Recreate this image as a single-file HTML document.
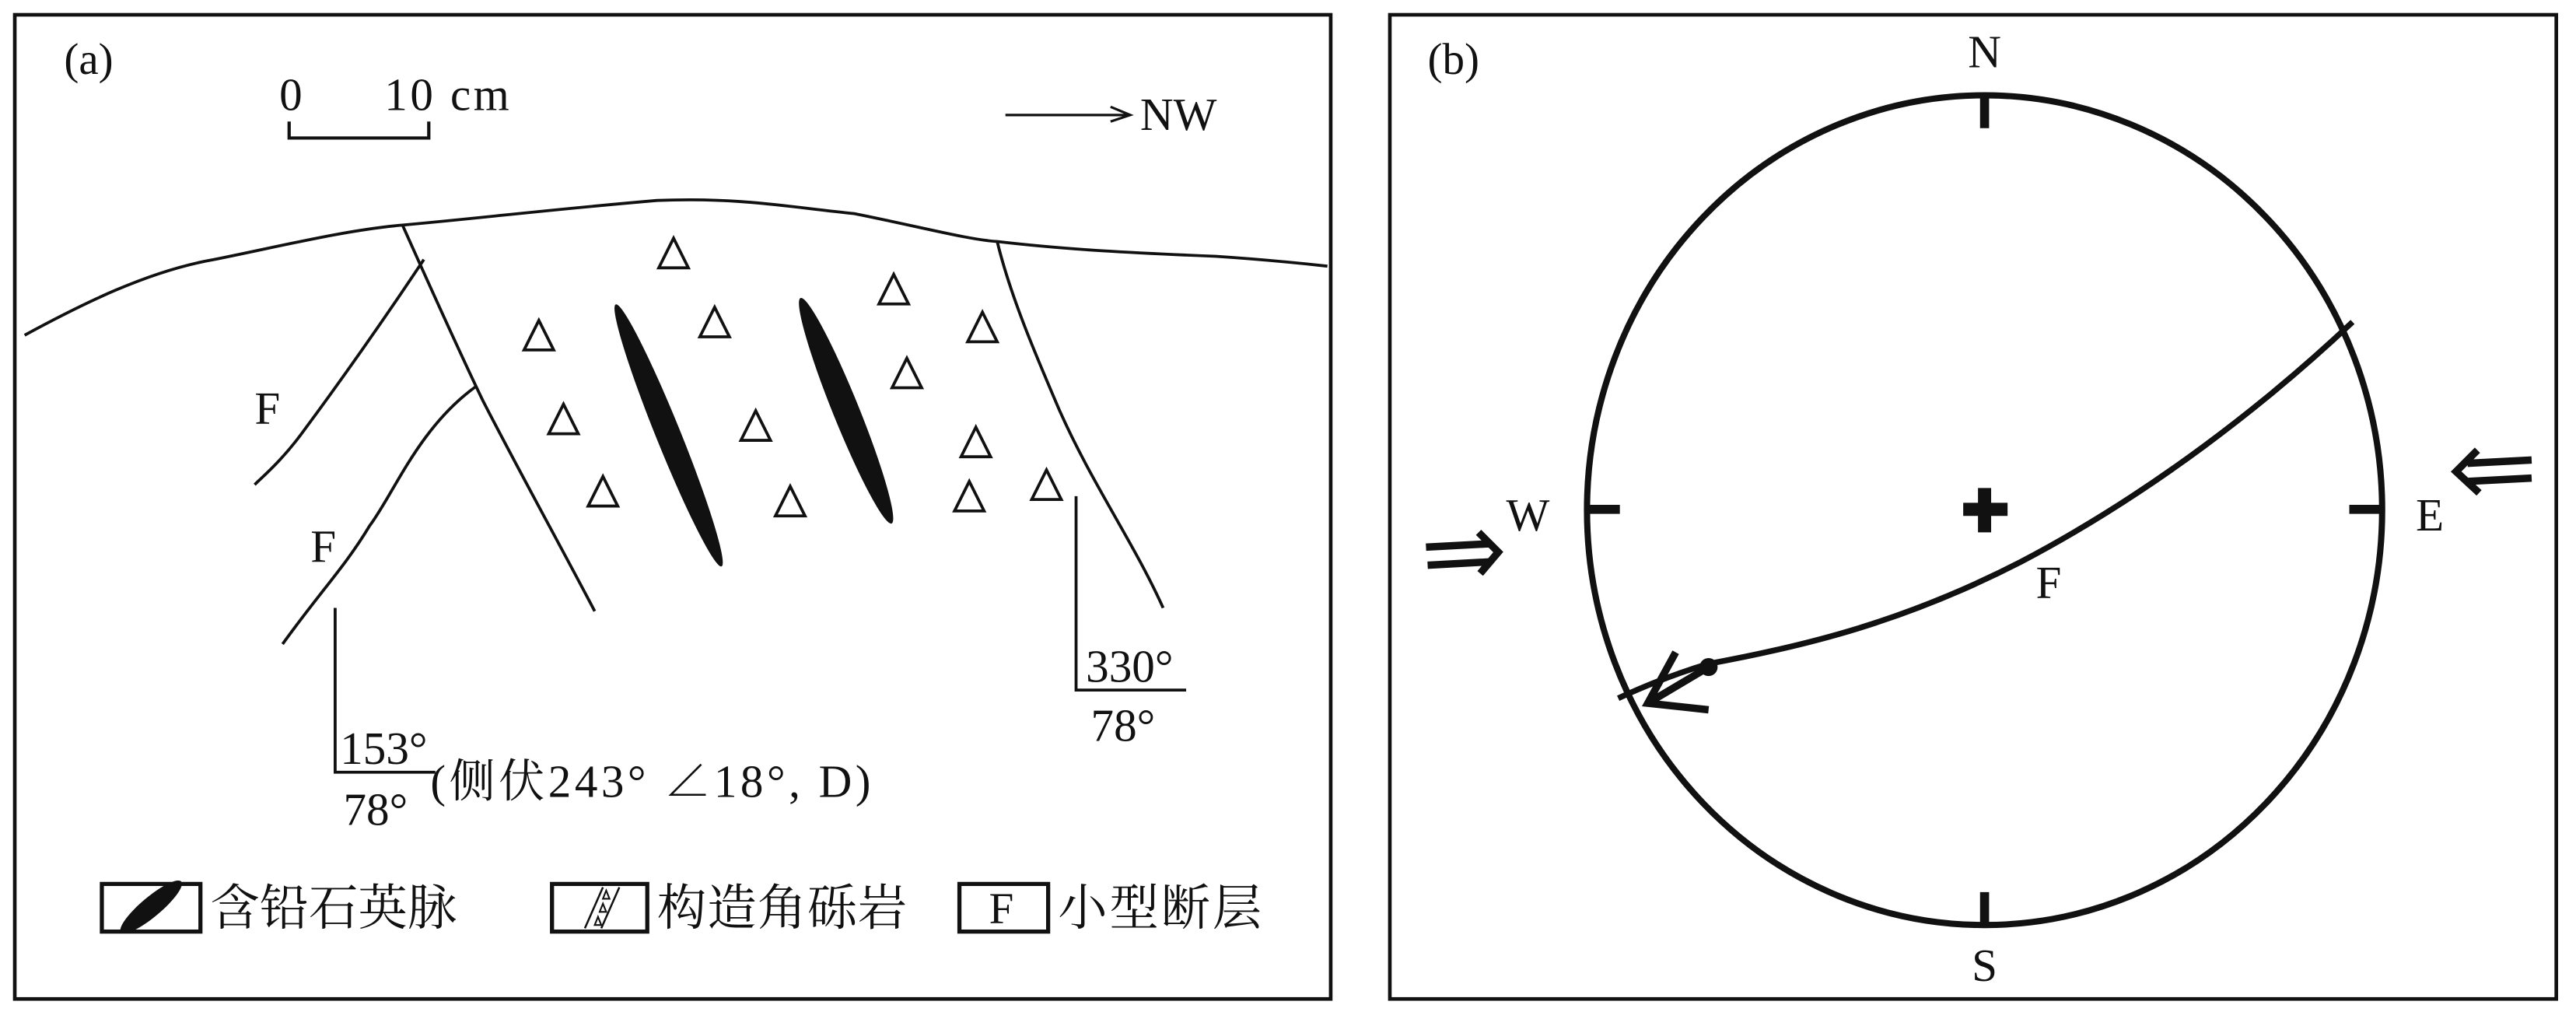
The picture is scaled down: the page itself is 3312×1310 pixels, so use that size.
<!DOCTYPE html>
<html><head><meta charset="utf-8"><style>html,body{margin:0;padding:0;background:#fff}svg{display:block}text{font-family:"Liberation Serif","Noto Serif CJK SC","Noto Sans CJK SC",serif;fill:#111}</style></head>
<body>
<svg width="3312" height="1310" viewBox="0 0 1568 620.2" preserveAspectRatio="none" xmlns="http://www.w3.org/2000/svg">
<g fill="none" stroke="#111">
<rect x="9" y="9" width="801" height="599" stroke-width="2.2"/>
<rect x="846" y="9" width="710" height="599" stroke-width="2.2"/>
</g>
<text x="39" y="45" font-size="27">(a)</text>
<text x="869" y="45" font-size="27">(b)</text>
<!-- scale -->
<text x="170" y="67" font-size="28">0</text>
<text x="234" y="67" font-size="28" textLength="76">10 cm</text>
<path d="M176,74 V84 H261 V74" fill="none" stroke="#111" stroke-width="2"/>
<path d="M612,70 H688 M676,65 L688,70 L676,74" fill="none" stroke="#111" stroke-width="1.5"/>
<text x="694" y="79" font-size="28">NW</text>
<!-- geology lines -->
<g fill="none" stroke="#111" stroke-width="1.8">
<path d="M15,204 C50,185 90,165 130,158 C170,150 210,140 245,137 C300,132 330,128 400,122 C450,120 480,126 520,130 C560,138 590,146 607,147 C650,152 690,154 740,156 C770,158 790,160 808,162"/>
<path d="M245,137 C262,175 280,215 294,244 C315,285 340,330 362,372"/>
<path d="M258,158 C230,200 205,235 185,262 C172,280 160,290 155,295"/>
<path d="M290,235 C255,260 240,300 225,320 C210,345 195,360 172,392"/>
<path d="M607,147 C615,180 630,215 645,250 C665,295 690,330 708,370"/>
<path d="M204,370 V470 H265"/>
<path d="M655,302 V420 H722"/>
</g>
<text x="155" y="258" font-size="28">F</text>
<text x="189" y="342" font-size="28">F</text>
<!-- veins -->
<ellipse cx="407" cy="265" rx="7.5" ry="86" transform="rotate(-22 407 265)" fill="#111"/>
<ellipse cx="515" cy="250" rx="8" ry="74" transform="rotate(-22 515 250)" fill="#111"/>
<!-- triangles -->
<g fill="none" stroke="#111" stroke-width="1.8">
<path d="M410,145 l-9,18 h18z"/><path d="M328,195 l-9,18 h18z"/><path d="M435,187 l-9,18 h18z"/>
<path d="M544,167 l-9,18 h18z"/><path d="M598,190 l-9,18 h18z"/><path d="M552,218 l-9,18 h18z"/>
<path d="M343,246 l-9,18 h18z"/><path d="M460,250 l-9,18 h18z"/><path d="M594,260 l-9,18 h18z"/>
<path d="M367,290 l-9,18 h18z"/><path d="M481,296 l-9,18 h18z"/><path d="M590,293 l-9,18 h18z"/>
<path d="M637,286 l-9,18 h18z"/>
</g>
<text x="207" y="465" font-size="28">153°</text>
<text x="209" y="502" font-size="28">78°</text>
<text x="262" y="485" font-size="28" textLength="268">(侧伏243° ∠18°, D)</text>
<text x="661" y="415" font-size="28">330°</text>
<text x="664" y="451" font-size="28">78°</text>
<!-- legend -->
<g fill="none" stroke="#111">
<rect x="62" y="538" width="60" height="29" stroke-width="2.5"/>
<rect x="336" y="538" width="58" height="29" stroke-width="2.5"/>
<rect x="584" y="538" width="54" height="29" stroke-width="2.5"/>
<path d="M367,540 L356,565 M377,540 L366,565" stroke-width="1.2"/>
</g>
<ellipse cx="92" cy="552" rx="6" ry="24" transform="rotate(50 92 552)" fill="#111"/>
<g fill="none" stroke="#111" stroke-width="1"><path d="M369,542 l-2,5 h4z"/><path d="M367,550 l-2,5 h4z"/><path d="M364,558 l-2,5 h4z"/></g>
<text x="128" y="563" font-size="30" textLength="150">含铅石英脉</text>
<text x="400" y="563" font-size="30" textLength="152">构造角砾岩</text>
<text x="602" y="562" font-size="27">F</text>
<text x="644" y="563" font-size="30" textLength="124">小型断层</text>
<!-- panel b -->
<ellipse cx="1208" cy="310.5" rx="242" ry="252.5" fill="none" stroke="#111" stroke-width="3.8"/>
<g stroke="#111" stroke-width="5.5">
<path d="M1208,58 V78 M1208,543 V563 M966,310 H986 M1430,310 H1450"/>
<path d="M1195,310 H1222 M1208,297 V324" stroke-width="8"/>
</g>
<text x="1208" y="41" font-size="28" text-anchor="middle">N</text>
<text x="1208" y="597" font-size="28" text-anchor="middle">S</text>
<text x="930" y="323" font-size="28" text-anchor="middle">W</text>
<text x="1479" y="323" font-size="28" text-anchor="middle">E</text>
<text x="1247" y="364" font-size="28" text-anchor="middle">F</text>
<path d="M1432,196 C1380,245 1310,300 1230,342 C1160,378 1100,393 1040,404 C1020,410 1000,418 985,425" fill="none" stroke="#111" stroke-width="3.5"/>
<circle cx="1040" cy="406" r="5.5" fill="#111"/>
<path d="M1040,406 L1003,428 M1020,397 L1003,428 L1040,432" fill="none" stroke="#111" stroke-width="4.5"/>
<!-- compression arrows -->
<g fill="none" stroke="#111" stroke-width="4.5">
<path d="M868,333 L906,331 M869,344 L906,342 M900,324 L912,336 L901,349"/>
<path d="M1541,280 L1502,282 M1541,291 L1502,293 M1508,274 L1495,287 L1509,300"/>
</g>
</svg>
</body></html>
